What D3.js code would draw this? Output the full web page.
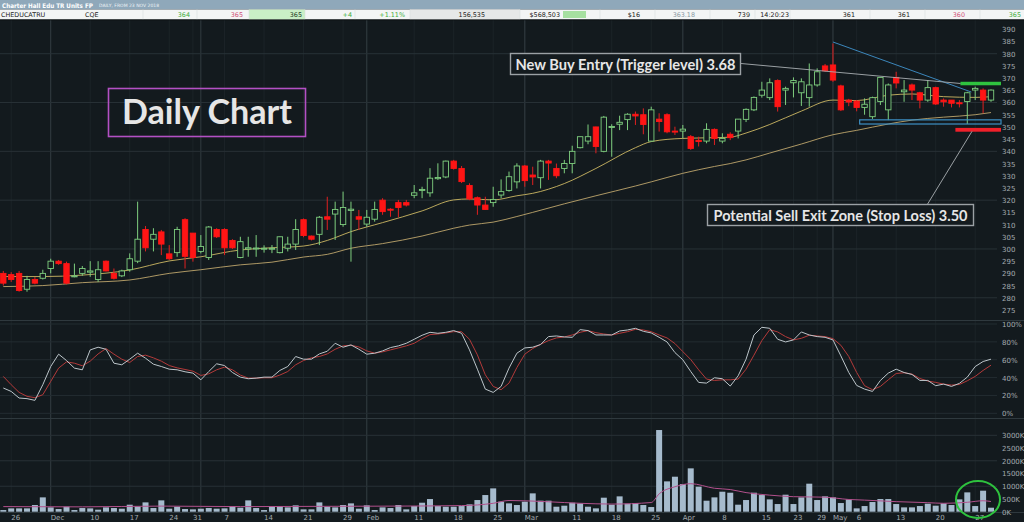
<!DOCTYPE html>
<html>
<head>
<meta charset="utf-8">
<script src="https://cdn.jsdelivr.net/npm/d3@7/dist/d3.min.js"></script>
<style>
  body { margin: 0; background: #131a1e; overflow: hidden; }
  svg { display: block; }
  .lbl { font-family: "DejaVu Sans", sans-serif; font-size: 7px; fill: #a3abb0; }
  .note { font-family: Lato, "Open Sans", sans-serif; font-weight: bold; fill: #e6e6e6; }
</style>
</head>
<body>
<svg id="chart" width="1024" height="522"></svg>
<script>
// trading days shown on the chart
var dates = [
  "2018-11-23","2018-11-26","2018-11-27","2018-11-28","2018-11-29","2018-11-30",
  "2018-12-03","2018-12-04","2018-12-05","2018-12-06","2018-12-07","2018-12-10","2018-12-11","2018-12-12","2018-12-13","2018-12-14",
  "2018-12-17","2018-12-18","2018-12-19","2018-12-20","2018-12-21","2018-12-24","2018-12-27","2018-12-28","2018-12-31",
  "2019-01-02","2019-01-03","2019-01-04","2019-01-07","2019-01-08","2019-01-09","2019-01-10","2019-01-11","2019-01-14","2019-01-15",
  "2019-01-16","2019-01-17","2019-01-18","2019-01-21","2019-01-22","2019-01-23","2019-01-24","2019-01-25","2019-01-29","2019-01-30","2019-01-31",
  "2019-02-01","2019-02-04","2019-02-05","2019-02-06","2019-02-07","2019-02-08","2019-02-11","2019-02-12","2019-02-13","2019-02-14",
  "2019-02-15","2019-02-18","2019-02-19","2019-02-20","2019-02-21","2019-02-22","2019-02-25","2019-02-26","2019-02-27","2019-02-28",
  "2019-03-01","2019-03-04","2019-03-05","2019-03-06","2019-03-07","2019-03-08","2019-03-11","2019-03-12","2019-03-13","2019-03-14",
  "2019-03-15","2019-03-18","2019-03-19","2019-03-20","2019-03-21","2019-03-22","2019-03-25","2019-03-26","2019-03-27","2019-03-28",
  "2019-04-01","2019-04-02","2019-04-03","2019-04-04","2019-04-05","2019-04-08","2019-04-09","2019-04-10","2019-04-11","2019-04-12",
  "2019-04-15","2019-04-16","2019-04-17","2019-04-18","2019-04-23","2019-04-24","2019-04-26","2019-04-29","2019-04-30",
  "2019-05-01","2019-05-02","2019-05-03","2019-05-06","2019-05-07","2019-05-08","2019-05-09","2019-05-10","2019-05-13","2019-05-14",
  "2019-05-15","2019-05-16","2019-05-17","2019-05-20","2019-05-21","2019-05-22","2019-05-23","2019-05-24","2019-05-27","2019-05-28","2019-05-29"
];

var open = [
  290,289.5,290,283.5,287.5,288,292,295,294,288.6,
  290,290.5,287.5,295,290,289,291.5,295,308,304,
  307,298,298.5,312,306.5,299,296.5,308,308,303.5,
  296.5,300,300,300,300,298.5,300.3,302,312,305.3,
  306,313.2,314.3,310,315.8,313.2,310.2,312.2,320,316.3,
  319,319,322,324,323,328.8,329.5,336,333,326,
  321,318,319,322.1,324,327.5,334,330.3,329.2,336,
  333,333,335,341.5,344.2,350,340,349.8,351.1,353,
  355.2,355,344.2,353.2,355,348.3,348.3,346,344.5,344.2,
  349,344.2,347,348.3,353.1,357,363,362,369,365.1,
  368.1,364,362,367.2,375,375.4,366.8,361,360.6,358,
  354.2,360.4,357,370.3,364.4,367.2,364,361,366.1,361,
  361,359.9,360.4,365.1,365.1,361
];
var high = [
  291,290.5,291,289,288.5,291.5,296,295.5,294.8,294,
  293,295,295,295.3,292,291.5,298.2,319.4,309.4,308.5,
  307.8,301.6,309.1,312.6,306.5,305.7,309.4,308.5,308.5,304,
  305,305,305.7,301.5,301.6,305.1,305,312.2,312.5,305.5,
  313.5,321.4,319.4,323.5,319.4,316,316,319.4,320.8,316.7,
  320.1,320.1,326.2,325.5,333.1,335.1,336.2,336.5,334,326.9,
  321.5,321.4,325.5,328.5,331.7,335.1,334.4,333.7,336.5,336.5,
  335,336.5,342.3,346,351,350.1,354.5,351.1,354.6,355.6,
  356.3,357.6,358.3,355.6,355.6,350.1,350.8,346.7,346,351.5,
  349.4,347.4,347.8,353.2,357.6,362.5,368.5,369.9,369.5,366.5,
  370.3,369.9,376,374,375.8,384.2,367.3,361.5,361,361.7,
  362.4,370.3,367.8,372.6,369.2,367.8,364.4,369.2,366.5,361.7,
  361,361,364.4,366.5,365.8,365.4
];
var low = [
  285,286.5,282.5,282.5,285.5,287.5,290,293.5,285.5,288.4,
  289,288.6,286.5,290.8,287.5,288.5,290.7,294.2,299,299,
  297.5,295.5,296.8,292,294.8,298.2,295.5,304.5,297.5,300,
  296.2,296.8,296.8,298.5,298.3,298.2,299,299.6,304.8,303.5,
  301.6,307.8,303.7,309.1,294.8,307.8,309.1,311.2,314,313.2,
  313,317.4,320.8,320.8,321.4,328.3,329,332.5,327,320,
  314,316,317.3,320.8,323.5,324.8,325.5,326.2,324.8,328.3,
  329,331,331,341.2,342.9,339.2,339.6,337.8,348.7,348.7,
  350.8,347,344,348.1,347.4,346.7,345.3,340.6,342,343.3,
  342.6,343.3,344.6,345.3,352,356.5,362,361,356.3,359,
  362.1,358.6,358.3,366.5,372.6,368.5,356.5,358.5,356.4,355,
  353.3,359,352.8,365.8,360.3,361,357.6,360.3,359,358.3,
  358,358,351.2,361,355.6,360.3
];
var close = [
  286,287.5,283,287.5,286,290,295,294,286,289,
  292,291,291.5,291,288,291,296,304,300.5,306,
  302,296,308,297,296.5,301,309,305,300.5,300.5,
  303,300.5,300.4,300.3,300.3,305,302,308,305.5,304,
  313,312.2,316.2,317,316.3,312.2,313,316.2,315.3,316,
  317,318,323,324.4,329,329.3,336,333,327.6,320.5,
  318,316.2,320.3,323.5,329.6,334,328,329.5,336,335.2,
  330,335,340,346,346,342,354,350.2,351.9,355.2,
  354.5,351,357,352.2,348,348,349.1,341.2,344,349,
  345.3,345.3,345.6,353.2,357.2,362.1,365.1,368.1,358.3,365.8,
  369,368.5,367.2,372.6,373,369.2,357,360.2,358,359.3,
  362,370.3,367.2,368,365.1,365.1,361,366.1,359.4,360.3,
  359.7,359.7,364,365.8,361,365.1
];
// volume in thousands
var volume = [
  65,131,131,131,262,563,170,105,196,65,
  144,131,79,170,144,118,275,209,366,144,
  445,118,196,105,92,118,144,118,131,222,
  157,445,144,65,222,222,170,249,92,92,
  366,196,170,262,327,118,249,65,170,144,
  262,92,222,353,497,222,196,196,222,288,
  458,654,916,393,327,262,393,720,432,432,
  196,236,353,327,196,131,550,275,602,314,
  340,262,183,3207,1191,1374,1086,1702,982,432,
  563,785,746,275,458,746,654,484,301,667,
  301,563,1100,458,602,563,340,484,131,222,
  380,497,497,301,170,170,222,314,236,327,
  262,484,759,222,825,157
];
var stochK = [
  28.3,24.5,17.1,16.4,14.5,32,52.4,66.2,59.1,50.6,
  48.7,71,74,71.7,56.1,54.3,60.6,67.3,61.7,55,
  52.4,49.4,48.7,46.5,45,37.5,46.8,55.4,53.5,45.7,
  40.5,38.7,39.4,40.5,40.5,48,52.4,63.6,60.6,60.6,
  66.5,69.5,78.4,74,76.6,71.7,66.2,67.3,69.9,73.6,
  75.5,78.4,82.9,87.4,90.7,89.6,90.7,92.6,89.6,71,
  49.4,27.1,23.4,30.1,50.6,67.3,73.2,74,77,85.9,
  86.6,85.5,85.1,93.7,92.6,87.7,87.7,87.7,92.2,93.3,
  95.2,91.8,90,85.1,79.9,68,59.9,46.8,34.6,33.8,
  39.8,38.7,30.5,42,60.6,87.7,96.3,95.2,82.9,79.9,
  82.2,91.1,87.7,85.9,85.1,82.2,64.3,45.7,31.2,27.1,
  24.5,36.8,45,49.4,45.7,43.5,36.8,36.8,30.9,32.7,
  30.1,33.5,40.5,52.4,58,60.6
];
var stochD = [
  41.3,32,23.4,19,17.5,20.8,35.7,50.6,57.6,56.1,
  53.2,58.4,66.5,72.5,66.2,60.6,56.9,63.6,65.1,62.1,
  58.4,53.5,50.9,49.1,47.2,42.4,44.2,48.7,51.7,48.7,
  42.8,39.4,39.4,39.8,39.8,42.8,46.8,54.3,59.1,62.1,
  63.6,66.5,71.7,75.5,76.2,74.3,69.9,67.3,68.8,71,
  73.2,75.5,78.4,83.6,88.1,88.8,90,91.4,91.4,82.9,
  65.4,43.1,30.1,26.4,33.8,51.3,66.2,72.5,77.3,81.4,
  84.4,85.5,87.7,90.7,92.6,90.3,88.8,87.7,89.6,91.4,
  94,93.3,91.4,87.7,84.4,78.1,69.1,60.2,48.7,38.3,
  36.8,37.5,37.5,38.3,49.4,65.1,81.4,93.7,91.1,85.9,
  82.2,84,87.4,86.6,85.9,83.6,76.2,63.6,45.7,30.9,
  26.4,30.1,37.5,44.6,45.4,43.9,39,36.1,34.6,32.7,
  31.6,32.3,36.4,41.3,48,53.9
];

// moving averages at these day indices
var maIdx  = [0,5,10,16,21,25,30,34,38,41,44,48,53,57,59,62,65,67,71,75,80,82,86,90,92,94,97,101,105,108,112,115,119,123,125];
var fastMA = [288.7,288.7,289.3,291.4,295.1,296.8,299.6,300.5,301.2,303.5,307.1,310.8,315.6,320.1,320.5,320.1,321.8,322.8,326.8,333,341.5,344,345.3,345.6,345.8,347.5,351,356.5,361,360.8,363,363.5,362.4,362.1,362.4];
var slowMA = [284.6,285,286.2,287.3,290,291.5,293.5,294.6,296.7,297.8,300.3,302.2,305.3,308.5,309.8,311,313.3,315,318.5,321.8,325.8,327.5,331,333.8,335,336.5,339.3,343,346.8,348.6,351.2,352.8,354,355,355.9];
var volMaIdx = [0,10,20,30,40,50,58,62,64,69,73,77,82,83,85,87,90,92,94,97,100,104,107,109,113,117,119,122,124,125];
var volMA    = [200,190,220,200,210,220,240,330,440,390,330,300,360,700,980,1100,920,870,750,650,590,570,480,455,395,355,330,370,430,400];

var tickDates  = ["2018-11-26","2018-12-03","2018-12-10","2018-12-17","2018-12-24","2018-12-31","2019-01-07","2019-01-14","2019-01-21","2019-01-29",
                  "2019-02-01","2019-02-11","2019-02-18","2019-02-25","2019-03-01","2019-03-11","2019-03-18","2019-03-25","2019-04-01","2019-04-08",
                  "2019-04-15","2019-04-23","2019-04-29","2019-05-01","2019-05-06","2019-05-13","2019-05-20","2019-05-27"];
var tickLabels = ["26","Dec","10","17","24","31","7","14","21","29","Feb","11","18","25","Mar","11","18","25","Apr","8","15","23","29","May","6","13","20","27"];
var monthStarts = ["2018-12-03","2019-01-02","2019-02-01","2019-03-01","2019-04-01","2019-05-01"];

var priceTicks = [275,280,285,290,295,300,305,310,315,320,325,330,335,340,345,350,355,360,365,370,375,380,385,390];
var priceGrid  = [280,300,320,340,360,380];
var stochTicks = [0,20,40,60,80,100];
var volTicks   = [0,500,1000,1500,2000,2500,3000];
var volGrid    = [1000,2000,3000];

var svg = d3.select("#chart");
var plotRight = 997;

var x = d3.scalePoint().domain(dates).range([3.3, 991]);
var yP = d3.scaleLinear().domain([275, 390]).range([310, 29.3]);
var yS = d3.scaleLinear().domain([0, 100]).range([413.3, 324]);
var yV = d3.scaleLinear().domain([0, 3000]).range([511.7, 435.3]);

// ---- grid ----
var grid = svg.append("g");
grid.selectAll("line.wk").data(tickDates).enter().append("line")
  .attr("x1", function(d){ return x(d); }).attr("x2", function(d){ return x(d); })
  .attr("y1", 20).attr("y2", 513)
  .attr("stroke", "#1c2428").attr("stroke-width", 1);
grid.selectAll("line.mo").data(monthStarts).enter().append("line")
  .attr("x1", function(d){ return x(d); }).attr("x2", function(d){ return x(d); })
  .attr("y1", 20).attr("y2", 513)
  .attr("stroke", "#323c41").attr("stroke-width", 1);
grid.selectAll("line.pg").data(priceGrid).enter().append("line")
  .attr("x1", 0).attr("x2", plotRight)
  .attr("y1", function(d){ return yP(d); }).attr("y2", function(d){ return yP(d); })
  .attr("stroke", "#283136");
grid.selectAll("line.sg").data(stochTicks).enter().append("line")
  .attr("x1", 0).attr("x2", plotRight)
  .attr("y1", function(d){ return yS(d); }).attr("y2", function(d){ return yS(d); })
  .attr("stroke", "#232c31");
grid.selectAll("line.vg").data(volGrid).enter().append("line")
  .attr("x1", 0).attr("x2", plotRight)
  .attr("y1", function(d){ return yV(d); }).attr("y2", function(d){ return yV(d); })
  .attr("stroke", "#283136");
[320.5, 418.5, 512.5].forEach(function(yy){
  grid.append("line").attr("x1", 0).attr("x2", 1024).attr("y1", yy).attr("y2", yy)
    .attr("stroke", "#2f393e");
});

// ---- axes ----
function rightAxis(scale, ticks, fmt) {
  var g = svg.append("g").attr("transform", "translate(1000,0)")
    .call(d3.axisRight(scale).tickValues(ticks).tickSize(0).tickPadding(2).tickFormat(fmt));
  g.select(".domain").remove();
  g.selectAll("text").attr("class", "lbl").attr("font-size", null).attr("font-family", null)
    .attr("fill", null).attr("dy", "0.35em");
}
rightAxis(yP, priceTicks, function(d){ return d; });
rightAxis(yS, stochTicks, function(d){ return d + "%"; });
rightAxis(yV, volTicks, function(d){ return d + "K"; });

svg.append("g").selectAll("text").data(tickDates).enter().append("text")
  .attr("class", "lbl")
  .attr("x", function(d){ return x(d); })
  .attr("y", 519.5)
  .text(function(d, i){ return tickLabels[i]; });

// ---- moving averages ----
var maLine = d3.line().curve(d3.curveMonotoneX);
svg.append("path")
  .attr("d", maLine(maIdx.map(function(k, j){ return [x(dates[k]), yP(slowMA[j])]; })))
  .attr("fill", "none").attr("stroke", "#bea66c").attr("stroke-width", 0.9);
svg.append("path")
  .attr("d", maLine(maIdx.map(function(k, j){ return [x(dates[k]), yP(fastMA[j])]; })))
  .attr("fill", "none").attr("stroke", "#cdb863").attr("stroke-width", 0.9);

// ---- candles ----
var rows = dates.map(function(d, i){
  return { date: d, o: open[i], h: high[i], l: low[i], c: close[i], v: volume[i] };
});
var bw = 5.4;
var up = "#7fcf7f", dn = "#ff1515";
var candles = svg.append("g").selectAll("g").data(rows).enter().append("g");
candles.append("line")
  .attr("x1", function(d){ return x(d.date); }).attr("x2", function(d){ return x(d.date); })
  .attr("y1", function(d){ return yP(d.h); }).attr("y2", function(d){ return yP(d.l); })
  .attr("stroke", function(d){ return d.c >= d.o ? up : "#e02020"; }).attr("stroke-width", 1);
candles.append("rect")
  .attr("x", function(d){ return x(d.date) - bw / 2; })
  .attr("width", bw)
  .attr("y", function(d){ return yP(Math.max(d.o, d.c)); })
  .attr("height", function(d){ return Math.max(1, Math.abs(yP(d.o) - yP(d.c))); })
  .attr("fill", function(d){ return d.c >= d.o ? "#131a1e" : dn; })
  .attr("stroke", function(d){ return d.c >= d.o ? up : dn; })
  .attr("stroke-width", 0.9);

// ---- stochastic ----
var sLine = d3.line().x(function(d, i){ return x(dates[i]); }).y(function(d){ return yS(d); });
svg.append("path").attr("d", sLine(stochD))
  .attr("fill", "none").attr("stroke", "#b43a3a").attr("stroke-width", 1);
svg.append("path").attr("d", sLine(stochK))
  .attr("fill", "none").attr("stroke", "#bcc5ca").attr("stroke-width", 1);

// ---- volume ----
svg.append("g").selectAll("rect").data(rows).enter().append("rect")
  .attr("x", function(d){ return x(d.date) - 3; })
  .attr("width", 6)
  .attr("y", function(d){ return yV(d.v); })
  .attr("height", function(d){ return yV(0) - yV(d.v); })
  .attr("fill", "#a6bbcd");
svg.append("path")
  .attr("d", maLine(volMaIdx.map(function(k, j){ return [x(dates[k]), yV(volMA[j])]; })))
  .attr("fill", "none").attr("stroke", "#b2508c").attr("stroke-width", 1);

// ---- annotations ----
var ann = svg.append("g");
// descending trend line
ann.append("line")
  .attr("x1", x(dates[105])).attr("y1", yP(384.8))
  .attr("x2", x(dates[122]) + 4).attr("y2", yP(364.3))
  .attr("stroke", "#3b86bb").attr("stroke-width", 1);
// support zone box
ann.append("rect")
  .attr("x", x(dates[108]) + 3).attr("y", yP(352.9))
  .attr("width", 1001 - x(dates[108]) - 3).attr("height", yP(351.2) - yP(352.9))
  .attr("fill", "none").attr("stroke", "#3d8fc4").attr("stroke-width", 1.2);
// trigger and stop levels
ann.append("rect")
  .attr("x", x(dates[121]) + 1).attr("y", yP(368.5))
  .attr("width", 1001 - x(dates[121]) - 1).attr("height", 3.5)
  .attr("fill", "#2fc33f");
ann.append("rect")
  .attr("x", x(dates[121]) - 4).attr("y", yP(349.6))
  .attr("width", 1001 - x(dates[121]) + 4).attr("height", 3.8)
  .attr("fill", "#f0202a");

// leader lines
ann.append("line").attr("x1", 741).attr("y1", 63.5)
  .attr("x2", x(dates[121]) + 1).attr("y2", yP(367.8))
  .attr("stroke", "#a9afb2").attr("stroke-width", 0.9);
ann.append("line").attr("x1", 927).attr("y1", 205)
  .attr("x2", 972).attr("y2", yP(348.2))
  .attr("stroke", "#a9afb2").attr("stroke-width", 0.9);

// label boxes
ann.append("rect").attr("x", 108.5).attr("y", 88.5).attr("width", 197).attr("height", 48)
  .attr("fill", "none").attr("stroke", "#b350c4").attr("stroke-width", 1.6);
ann.append("text").attr("class", "note")
  .attr("x", 207).attr("y", 124).attr("text-anchor", "middle")
  .attr("font-size", 34).attr("fill", "#d9d9d9")
  .attr("textLength", 170).attr("lengthAdjust", "spacingAndGlyphs")
  .text("Daily Chart");

ann.append("rect").attr("x", 510.5).attr("y", 53.5).attr("width", 230).attr("height", 21)
  .attr("fill", "#141b1f").attr("stroke", "#9ba1a5").attr("stroke-width", 1.4);
ann.append("text").attr("class", "note")
  .attr("x", 625.5).attr("y", 69.5).attr("text-anchor", "middle")
  .attr("font-size", 15)
  .attr("textLength", 220).attr("lengthAdjust", "spacingAndGlyphs")
  .text("New Buy Entry (Trigger level) 3.68");

ann.append("rect").attr("x", 707.5).attr("y", 204.5).attr("width", 266).attr("height", 21)
  .attr("fill", "#141b1f").attr("stroke", "#9ba1a5").attr("stroke-width", 1.4);
ann.append("text").attr("class", "note")
  .attr("x", 840.5).attr("y", 220.5).attr("text-anchor", "middle")
  .attr("font-size", 15)
  .attr("textLength", 254).attr("lengthAdjust", "spacingAndGlyphs")
  .text("Potential Sell Exit Zone (Stop Loss) 3.50");

// volume circle
ann.append("ellipse").attr("cx", 978).attr("cy", 499.5).attr("rx", 22).attr("ry", 18.5)
  .attr("fill", "none").attr("stroke", "#2ec23e").attr("stroke-width", 2);

// ---- header ----
var head = svg.append("g");
head.append("rect").attr("x", 0).attr("y", 0).attr("width", 1024).attr("height", 9.5).attr("fill", "#8fa8ba");
head.append("rect").attr("x", 0).attr("y", 9.5).attr("width", 1024).attr("height", 10).attr("fill", "#f3f5f5");
head.append("rect").attr("x", 249).attr("y", 9.5).attr("width", 56).attr("height", 10).attr("fill", "#c9efc6");
head.append("rect").attr("x", 410).attr("y", 9.5).attr("width", 110).attr("height", 10).attr("fill", "#e6e8e8");
head.append("rect").attr("x", 563).attr("y", 11).attr("width", 23).attr("height", 7).attr("fill", "#a6e0a0");
[143, 197, 249, 305, 355, 410, 520, 600, 655, 710, 755, 790, 870, 925, 980].forEach(function(xx){
  head.append("line").attr("x1", xx).attr("x2", xx).attr("y1", 9.5).attr("y2", 19.5)
    .attr("stroke", "#d9dddd").attr("stroke-width", 0.6);
});
head.append("rect").attr("x", 0).attr("y", 19.5).attr("width", 1024).attr("height", 0.8).attr("fill", "#0b0f11");

// fit a header text into a given width by adjusting its font size
function fitText(sel, width) {
  var w = sel.node().getComputedTextLength();
  var fs = parseFloat(sel.attr("font-size"));
  sel.attr("font-size", (fs * width / w).toFixed(2));
}
var title = head.append("text").attr("x", 2).attr("y", 7.8)
  .attr("font-family", "'DejaVu Sans Condensed', 'DejaVu Sans', sans-serif").attr("font-weight", "bold")
  .attr("font-size", 7).attr("fill", "#ffffff")
  .text("Charter Hall Edu TR Units FP");
fitText(title, 91);
var sub = head.append("text").attr("x", 99).attr("y", 7.2)
  .attr("font-family", "'DejaVu Sans', sans-serif").attr("font-size", 4.2).attr("fill", "#eef3f6")
  .text("DAILY, FROM 23 NOV 2018");
fitText(sub, 60);

var cells = [
  [1, "CHEDUCATRU", "#222", "start"], [85, "CQE", "#222", "start"],
  [190, "364", "#3fae3f", "end"], [243, "365", "#d0507a", "end"], [302, "365", "#1e3a1e", "end"],
  [352, "+4", "#3fae3f", "end"], [405, "+1.11%", "#3fae3f", "end"], [485, "156,535", "#222", "end"],
  [560, "$568,503", "#222", "end"], [640, "$16", "#222", "end"], [695, "363.18", "#8a9aa4", "end"],
  [750, "739", "#222", "end"], [789, "14:20:23", "#222", "end"], [855, "361", "#222", "end"],
  [910, "361", "#222", "end"], [965, "360", "#d0507a", "end"], [1021, "365", "#3fae3f", "end"]
];
head.selectAll("text.cell").data(cells).enter().append("text")
  .attr("x", function(d){ return d[0]; }).attr("y", 17.3)
  .attr("text-anchor", function(d){ return d[3]; })
  .attr("font-family", "Verdana, 'DejaVu Sans', sans-serif").attr("font-size", 6.4)
  .attr("fill", function(d){ return d[2]; })
  .text(function(d){ return d[1]; });
</script>
</body>
</html>
